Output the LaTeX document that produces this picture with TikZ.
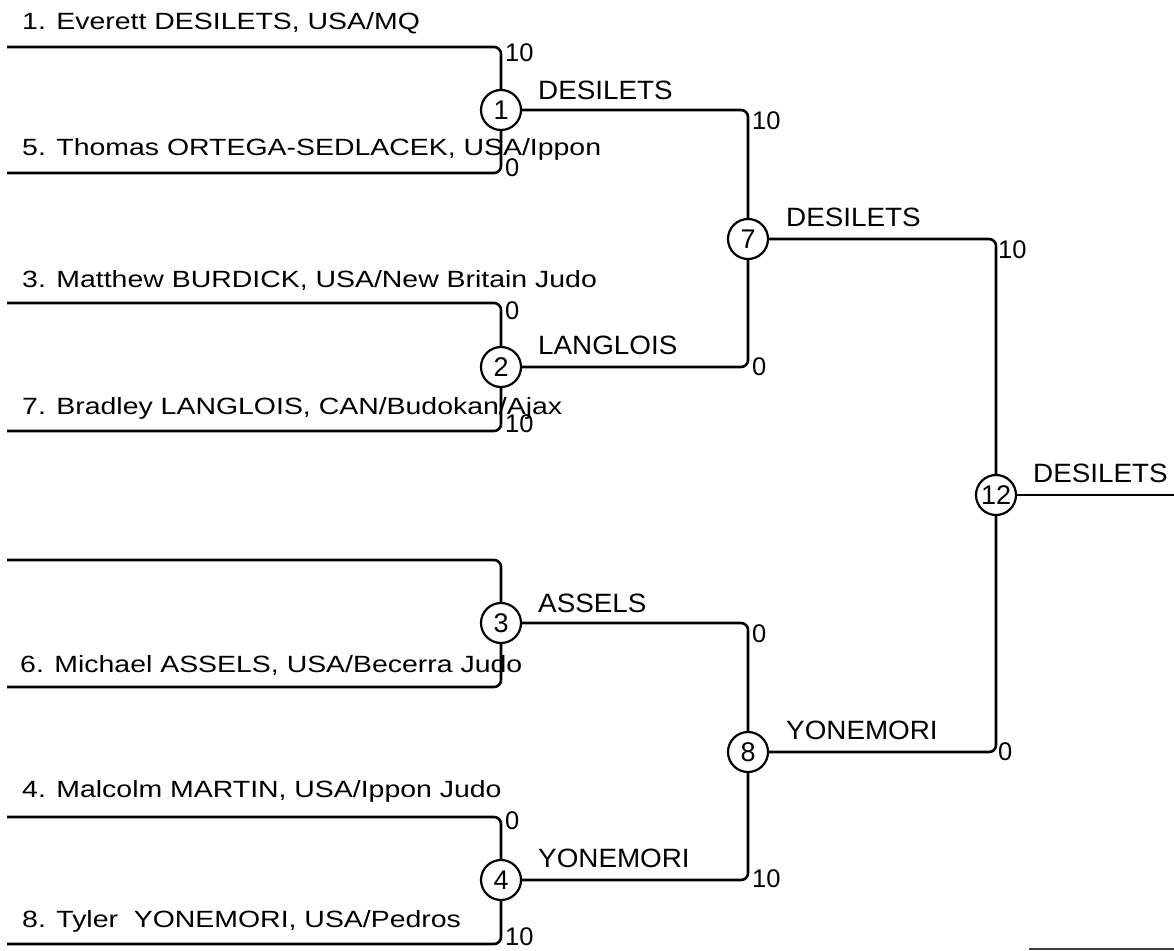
\documentclass[tikz,border=0pt]{standalone}
\usepackage{fontspec}
\setmainfont{Liberation Sans}
\newfontfamily\namefont{Liberation Sans}[FakeStretch=1.21]
\newfontfamily\winfont{Liberation Sans}[FakeStretch=1.05]
\begin{document}
\begin{tikzpicture}[x=1pt,y=-1pt,
  wire/.style={line width=2.6pt, rounded corners=7pt},
  match/.style={circle, draw, line width=2.2pt, minimum size=40pt, inner sep=0pt,
                font=\fontsize{27}{30}\selectfont},
  player/.style={anchor=base west, inner sep=0pt, font=\namefont\fontsize{23.5}{28}\selectfont},
  winner/.style={anchor=base west, inner sep=0pt, font=\winfont\fontsize{26.5}{30}\selectfont},
  score/.style={anchor=west, inner sep=0pt, font=\fontsize{25.5}{28}\selectfont}]
\useasboundingbox (0,0) rectangle (1174,950);

% entry points
\coordinate (s1) at (7,47);
\coordinate (s5) at (7,173);
\coordinate (s3) at (7,303);
\coordinate (s7) at (7,431);
\coordinate (sb) at (7,560);
\coordinate (s6) at (7,687);
\coordinate (s4) at (7,817);
\coordinate (s8) at (7,944);
\coordinate (fin) at (1174,495);

% matches
\node[match] (m1) at (501,110) {1};
\node[match] (m2) at (501,367) {2};
\node[match] (m3) at (501,623) {3};
\node[match] (m4) at (501,880) {4};
\node[match] (m7) at (748,239) {7};
\node[match] (m8) at (748,752) {8};
\node[match] (m12) at (996,495) {12};

% connectors
\draw[wire] (s1) -| (m1);
\draw[wire] (s5) -| (m1);
\draw[wire] (s3) -| (m2);
\draw[wire] (s7) -| (m2);
\draw[wire] (sb) -| (m3);
\draw[wire] (s6) -| (m3);
\draw[wire] (s4) -| (m4);
\draw[wire] (s8) -| (m4);
\draw[wire] (m1) -| (m7);
\draw[wire] (m2) -| (m7);
\draw[wire] (m3) -| (m8);
\draw[wire] (m4) -| (m8);
\draw[wire] (m7) -| (m12);
\draw[wire] (m8) -| (m12);
\draw[wire] (m12) -- (fin);

% players
\node[player] (n1) at (22,30) {1. Everett DESILETS, USA/MQ};
\node[player] (n5) at (22,155) {5. Thomas ORTEGA-SEDLACEK, USA/Ippon};
\node[player] (n3) at (22,287) {3. Matthew BURDICK, USA/New Britain Judo};
\node[player] (n7) at (22,414) {7. Bradley LANGLOIS, CAN/Budokan/Ajax};
\node[player] (n6) at (20,672) {6. Michael ASSELS, USA/Becerra Judo};
\node[player] (n4) at (22,797) {4. Malcolm MARTIN, USA/Ippon Judo};
\node[player] (n8) at (22,927) {8. Tyler\ \ YONEMORI, USA/Pedros};

% winners
\node[winner] (w1) at (538,99) {DESILETS};
\node[winner] (w2) at (538,354) {LANGLOIS};
\node[winner] (w3) at (538,612) {ASSELS};
\node[winner] (w4) at (538,867) {YONEMORI};
\node[winner] (w7) at (786,226) {DESILETS};
\node[winner] (w8) at (786,739) {YONEMORI};
\node[winner] (w12) at (1033,482) {DESILETS};

% scores
\node[score] (a1) at (505,52.5) {10};
\node[score] (a5) at (505,167.5) {0};
\node[score] (a3) at (505,311) {0};
\node[score] (a7) at (505,424) {10};
\node[score] (a4) at (505,821) {0};
\node[score] (a8) at (505,937) {10};
\node[score] (b1) at (752,121) {10};
\node[score] (b2) at (752,366.5) {0};
\node[score] (b3) at (752,634) {0};
\node[score] (b4) at (752,879) {10};
\node[score] (c7) at (998,250) {10};
\node[score] (c8) at (998,752) {0};

% stray rule bottom right
\coordinate (bl) at (1029,949);
\coordinate (br) at (1174,949);
\draw[line width=1.2pt, black!75] (bl) -- (br);
\end{tikzpicture}
\end{document}
